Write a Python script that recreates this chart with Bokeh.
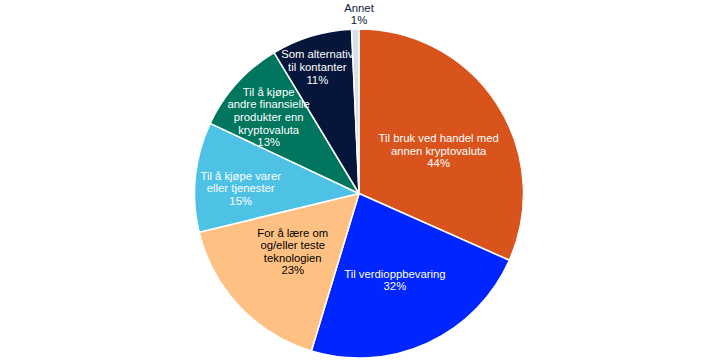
import math
from bokeh.plotting import figure
from bokeh.models import ColumnDataSource, Range1d
from bokeh.core.properties import value
from bokeh.embed import file_html
from bokeh.resources import INLINE

# ---- data ----
categories = [
    "Til bruk ved handel med\nannen kryptovaluta",
    "Til verdioppbevaring",
    "For å lære om\nog/eller teste\nteknologien",
    "Til å kjøpe varer\neller tjenester",
    "Til å kjøpe\nandre finansielle\nprodukter enn\nkryptovaluta",
    "Som alternativ\ntil kontanter",
    "Annet",
]
shares = [44, 32, 23, 15, 13, 11, 1]

# ---- style / layout ----
colors = ["#D9541C", "#0026FF", "#FFC183", "#4DC2E5", "#00765E", "#06163A", "#D8DEE6"]
text_colors = ["white", "white", "black", "white", "white", "white", "#0C1A3C"]
label_frac = [0.55, 0.57, 0.535, 0.72, 0.72, 0.81, 1.09]
label_tweak_deg = [4.7, 2.1, 2.2, -3.3, -1.8, -1.4, 1.3]

W, H = 722, 363
cx, cy, R = 358.5, H - 193, 164.5

total = float(sum(shares))
starts, ends, lx, ly, labels = [], [], [], [], []
cum = 0.0
for i, v in enumerate(shares):
    a0 = math.pi / 2 - 2 * math.pi * cum / total
    cum += v
    a1 = math.pi / 2 - 2 * math.pi * cum / total
    starts.append(a0)
    ends.append(a1)
    mid = (a0 + a1) / 2 - math.radians(label_tweak_deg[i])
    lx.append(cx + R * label_frac[i] * math.cos(mid))
    ly.append(cy + R * label_frac[i] * math.sin(mid))
    labels.append(f"{categories[i]}\n{v}%")

src = ColumnDataSource(dict(start=starts, end=ends, color=colors,
                            x=lx, y=ly, label=labels, tcolor=text_colors))

p = figure(width=W, height=H, output_backend="svg", toolbar_location=None,
           x_range=Range1d(0, W), y_range=Range1d(0, H),
           x_axis_type=None, y_axis_type=None, min_border=0,
           outline_line_color=None, tools="")
p.grid.visible = False
p.background_fill_color = "white"
p.border_fill_color = "white"

p.wedge(x=cx, y=cy, radius=R, start_angle="start", end_angle="end",
        direction="clock", fill_color="color", line_color="white",
        line_width=1.5, source=src)

p.text(x="x", y="y", text="label", source=src, text_color="tcolor",
       text_font=value("Liberation Sans"), text_font_size="11.3px",
       text_align="center", text_baseline="middle", text_line_height=1.05)

open("out.html", "w").write(file_html(p, INLINE))
